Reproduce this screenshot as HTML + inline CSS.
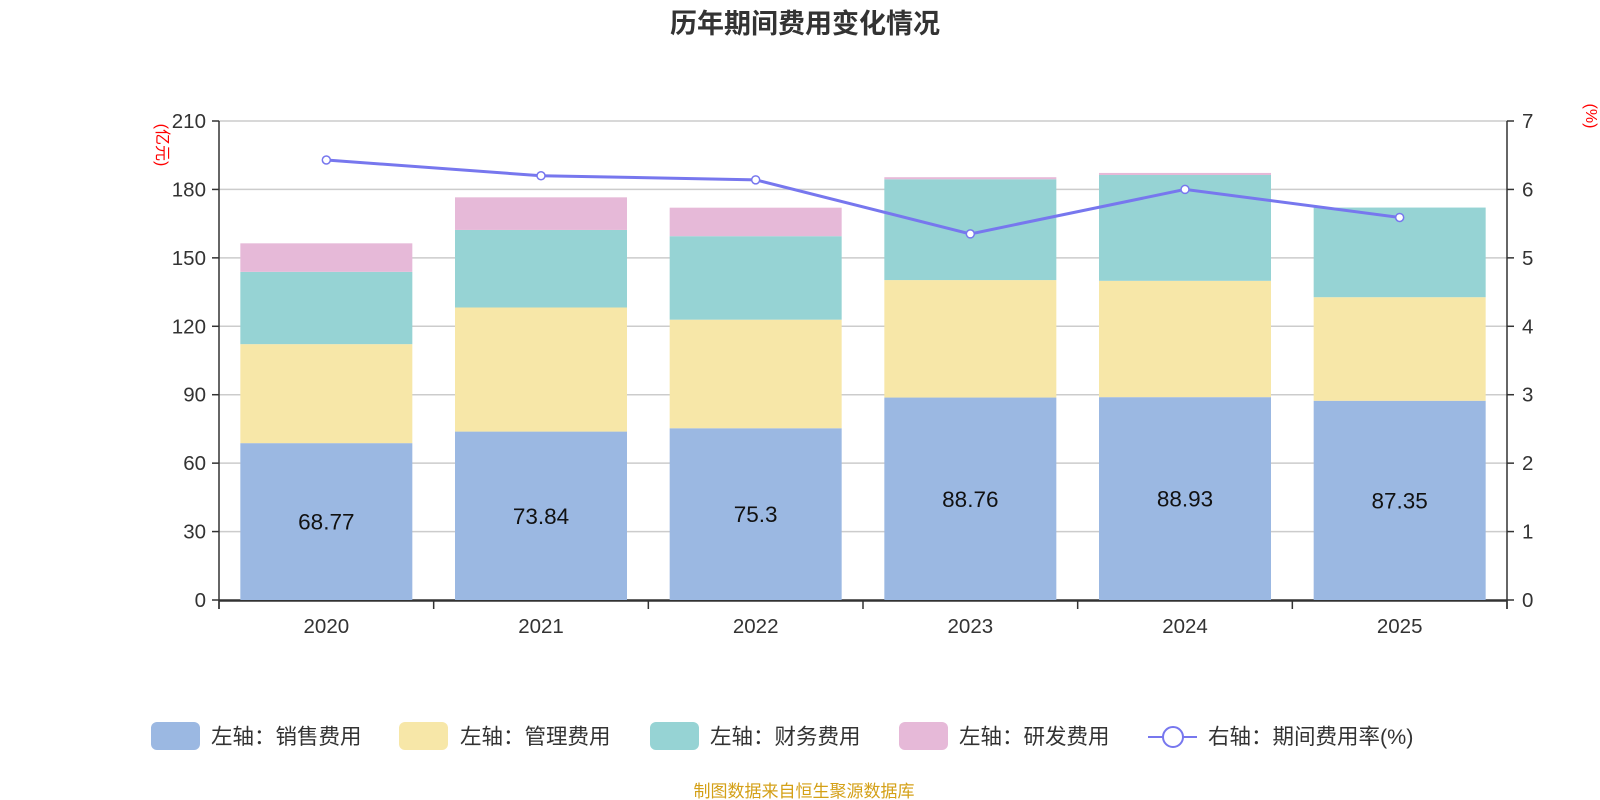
<!DOCTYPE html>
<html><head><meta charset="utf-8">
<style>
html,body{margin:0;padding:0;background:#fff;overflow:hidden;width:1600px;height:800px;font-family:"Liberation Sans","Noto Sans CJK SC",sans-serif;}
svg{display:block;}
svg text{font-family:"Liberation Sans","Noto Sans CJK SC",sans-serif;}
</style></head>
<body>
<svg id="chart" width="1600" height="800" xmlns="http://www.w3.org/2000/svg">
<text x="805" y="33" text-anchor="middle" font-size="27" font-weight="bold" fill="#333">历年期间费用变化情况</text>
<text x="157" y="145" font-size="16" fill="red" text-anchor="middle" transform="rotate(90 157 145)">(亿元)</text>
<text x="1586" y="116" font-size="16" fill="red" text-anchor="middle" transform="rotate(90 1586 116)">(%)</text>
<g id="grid"></g><g id="bars"></g><g id="axes"></g><g id="line"></g>
<g font-size="21.5" fill="#333">
<g><rect x="151" y="722" width="49" height="28" rx="6" fill="#9bb8e2"/><text x="211" y="744">左轴：销售费用</text></g>
<g><rect x="399" y="722" width="49" height="28" rx="6" fill="#f7e7a8"/><text x="460" y="744">左轴：管理费用</text></g>
<g><rect x="650" y="722" width="49" height="28" rx="6" fill="#96d3d4"/><text x="710" y="744">左轴：财务费用</text></g>
<g><rect x="899" y="722" width="49" height="28" rx="6" fill="#e6b9d8"/><text x="959" y="744">左轴：研发费用</text></g>
<g><line x1="1148" y1="737" x2="1197" y2="737" stroke="#7777ee" stroke-width="2"/><circle cx="1173" cy="737" r="10" fill="#fff" stroke="#7777ee" stroke-width="2"/><text x="1208" y="744">右轴：期间费用率(%)</text></g>
</g>
<text x="804" y="797" text-anchor="middle" font-size="17" fill="#d4a017">制图数据来自恒生聚源数据库</text>
</svg>
<script>
const categories=['2020','2021','2022','2023','2024','2025'];
const sales=[68.77,73.84,75.3,88.76,88.93,87.35];
const admin=[43.4,54.4,47.6,51.5,51.0,45.4];
const finance=[31.7,34.0,36.6,44.2,46.4,39.3];
const rd=[12.5,14.3,12.5,0.9,0.9,0];
const rate=[6.43,6.20,6.14,5.35,6.00,5.59];
const leftTicks=[0,30,60,90,120,150,180,210];
const rightTicks=[0,1,2,3,4,5,6,7];
const NS='http://www.w3.org/2000/svg';
const X0=219,X1=1507,Y0=600,Y1=121;
const band=(X1-X0)/categories.length;
const yL=v=>Y0-(v/210)*(Y0-Y1);
const yR=v=>Y0-(v/7)*(Y0-Y1);
const xC=i=>X0+band*(i+0.5);
function mk(tag,attrs,parent){const e=document.createElementNS(NS,tag);for(const k in attrs)e.setAttribute(k,attrs[k]);document.getElementById(parent).appendChild(e);return e;}
leftTicks.forEach((t,i)=>{
 const g=mk('line',{x1:X0,x2:X1,y1:yL(t),y2:yL(t),stroke:i==0?'#333':'#ccc','stroke-width':1.5},'grid');
 
 
 mk('line',{x1:X0-7,x2:X0,y1:yL(t),y2:yL(t),stroke:'#333','stroke-width':1.5},'axes');
 const tx=mk('text',{x:X0-13,y:yL(t)+7,'text-anchor':'end','font-size':20.5,fill:'#333'},'axes');tx.textContent=t;
 
 
});
rightTicks.forEach(t=>{
 mk('line',{x1:X1,x2:X1+7,y1:yR(t),y2:yR(t),stroke:'#333','stroke-width':1.5},'axes');
 const tx=mk('text',{x:X1+15,y:yR(t)+7,'font-size':20.5,fill:'#333'},'axes');tx.textContent=t;
 
 
});
mk('line',{x1:X0,x2:X0,y1:Y1,y2:Y0+9,stroke:'#333','stroke-width':1.5},'axes');
mk('line',{x1:X1,x2:X1,y1:Y1,y2:Y0+9,stroke:'#333','stroke-width':1.5},'axes');
mk('line',{x1:X0,x2:X1,y1:Y0+1,y2:Y0+1,stroke:'#333','stroke-width':1.5},'axes');
for(let i=0;i<=categories.length;i++)mk('line',{x1:X0+band*i,x2:X0+band*i,y1:Y0,y2:Y0+9,stroke:'#333','stroke-width':1.5},'axes');
const series=[[sales,'#9bb8e2'],[admin,'#f7e7a8'],[finance,'#96d3d4'],[rd,'#e6b9d8']];
const names=['bar-sales','bar-admin','bar-finance','bar-rd'];
categories.forEach((c,i)=>{
 let base=0;const bw=172;
 series.forEach(([arr,col],s)=>{
  const v=arr[i];if(v<=0)return;
  const r=mk('rect',{x:xC(i)-bw/2,y:yL(base+v),width:bw,height:yL(base)-yL(base+v),fill:col},'bars');
  
  
  base+=v;
 });
 const lb=mk('text',{x:xC(i),y:yL(sales[i]/2)+8,'text-anchor':'middle','font-size':22.5,fill:'#111'},'bars');lb.textContent=sales[i];
 
 
 const cl=mk('text',{x:xC(i),y:Y0+33,'text-anchor':'middle','font-size':20.5,fill:'#333'},'axes');cl.textContent=c;
 
 
});
const pts=rate.map((v,i)=>xC(i)+','+yR(v)).join(' ');
const pl=mk('polyline',{points:pts,fill:'none',stroke:'#7777ee','stroke-width':3},'line');


rate.forEach((v,i)=>{
 const c=mk('circle',{cx:xC(i),cy:yR(v),r:4,fill:'#fff',stroke:'#7777ee','stroke-width':1.5},'line');
 
 
});
</script>
</body></html>
